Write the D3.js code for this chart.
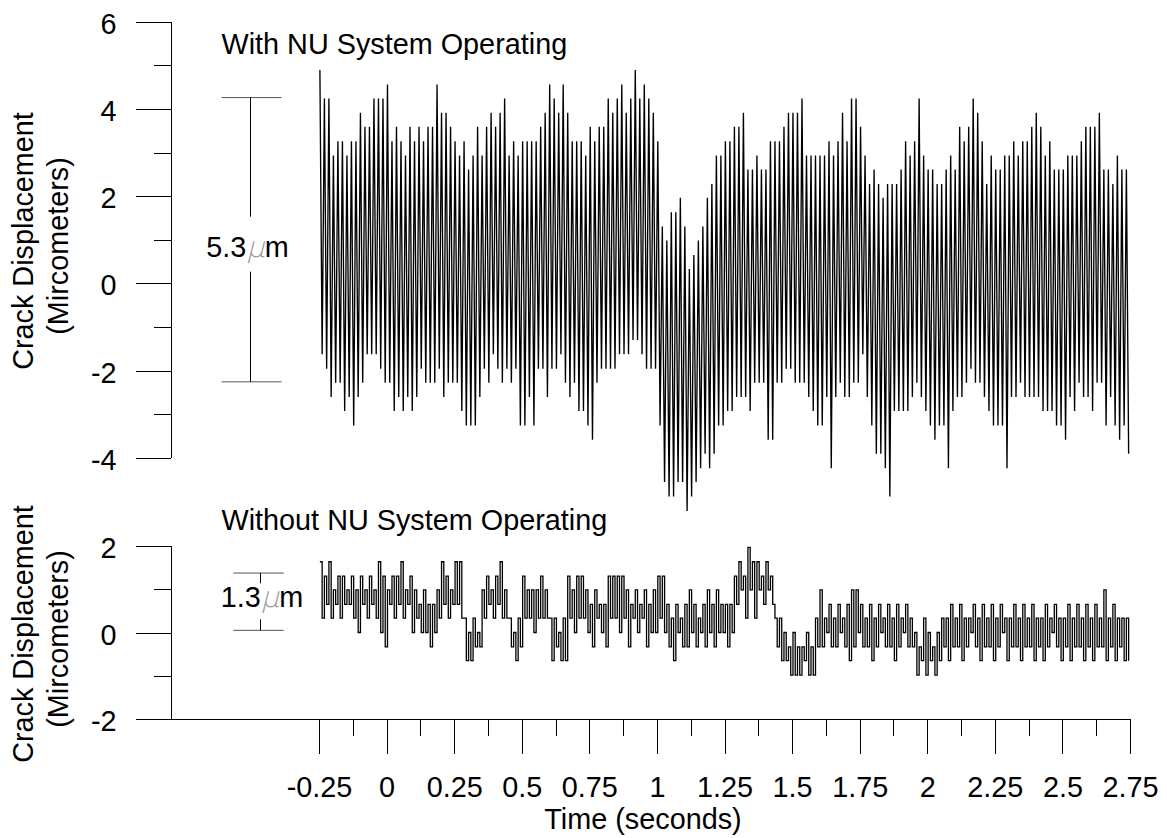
<!DOCTYPE html>
<html>
<head>
<meta charset="utf-8">
<script src="https://cdn.jsdelivr.net/npm/d3@7"></script>
<style>
  body { margin: 0; background: #fff; }
  svg { display: block; }
</style>
</head>
<body>
<svg id="chart" width="1167" height="838"></svg>
<script>
// ---------------- DATA ----------------
const xTickValues = [-0.25, 0, 0.25, 0.5, 0.75, 1, 1.25, 1.5, 1.75, 2, 2.25, 2.5, 2.75];
const xTickLabels = ["-0.25", "0", "0.25", "0.5", "0.75", "1", "1.25", "1.5", "1.75", "2", "2.25", "2.5", "2.75"];
const xMinorTicks = [-0.125, 0.125, 0.375, 0.625, 0.875, 1.125, 1.375, 1.625, 1.875, 2.125, 2.375, 2.625];
const topYMajor = [-4, -2, 0, 2, 4, 6];
const topYMinor = [-3, -1, 1, 3, 5];
const botYMajor = [-2, 0, 2];
const botYMinor = [-1, 1];

const titles = ["With NU System Operating", "Without NU System Operating"];
const axisTitleX = "Time (seconds)";
const axisTitleY = ["Crack Displacement", "(Mircometers)"];

// sampling of the recorded traces (60 Hz cycles, start time in seconds)
const sampleStart = -0.2467;
const cyclesPerSecond = 60;

// "With NU System Operating": per-cycle peak and trough (micrometers)
const withPeaks = [
  4.89, 4.24, 4.24, 2.93, 3.26, 3.26, 2.93, 3.26, 3.26, 3.91,
  3.59, 3.59, 4.24, 4.24, 4.24, 4.56, 3.26, 3.59, 3.26, 2.93,
  3.59, 3.26, 3.59, 3.26, 3.59, 3.59, 4.56, 3.91, 3.91, 3.59,
  3.26, 2.93, 3.26, 2.61, 2.93, 3.59, 2.93, 3.59, 3.91, 3.59,
  3.91, 4.24, 2.93, 3.26, 2.93, 3.26, 3.26, 3.26, 3.26, 3.59,
  3.91, 4.56, 4.24, 3.91, 4.56, 3.91, 3.26, 3.26, 3.26, 2.93,
  3.59, 3.26, 3.59, 3.59, 4.24, 3.91, 4.24, 4.56, 3.91, 4.24,
  4.89, 4.24, 4.56, 4.24, 3.91, 3.26, 1.30, 0.98, 1.63, 1.63,
  1.96, 1.30, 0.33, 0.65, 0.98, 1.30, 1.96, 2.28, 2.93, 2.93,
  3.26, 3.26, 3.59, 3.59, 3.91, 2.61, 2.61, 2.93, 2.61, 2.61,
  3.26, 3.26, 3.26, 3.59, 3.91, 3.91, 3.91, 4.24, 2.93, 2.93,
  2.93, 2.93, 2.93, 3.26, 2.93, 3.26, 3.91, 3.26, 4.24, 4.24,
  3.59, 2.93, 2.28, 2.61, 2.28, 1.96, 2.28, 2.28, 2.28, 2.61,
  3.26, 2.93, 3.26, 4.24, 2.93, 2.61, 2.61, 2.28, 2.28, 2.61,
  2.93, 2.61, 3.59, 3.26, 3.59, 4.24, 3.91, 3.26, 2.28, 2.93,
  2.61, 2.61, 2.93, 2.93, 3.26, 2.93, 3.26, 3.26, 3.59, 3.91,
  3.59, 2.93, 3.26, 2.61, 2.61, 2.61, 2.93, 2.93, 2.93, 3.26,
  3.59, 3.59, 3.59, 3.91, 2.61, 2.61, 2.28, 2.93, 2.61, 2.61
];
const withTroughs = [
  -1.63, -1.96, -2.61, -2.28, -2.28, -2.93, -2.61, -3.26, -2.61, -2.28,
  -1.63, -1.63, -1.63, -1.96, -2.28, -2.28, -2.93, -2.61, -2.93, -2.61,
  -2.93, -2.61, -1.96, -2.28, -2.28, -2.28, -1.96, -2.61, -2.28, -2.28,
  -2.28, -2.93, -3.26, -3.26, -3.26, -2.61, -1.96, -2.28, -1.63, -1.96,
  -2.28, -1.96, -2.28, -1.96, -3.26, -3.26, -2.61, -3.26, -1.96, -1.96,
  -2.61, -1.96, -1.96, -1.63, -2.28, -2.61, -2.28, -2.93, -2.93, -3.26,
  -3.59, -2.28, -1.96, -1.96, -1.96, -1.96, -1.63, -1.63, -1.63, -1.30,
  -1.30, -1.63, -1.96, -1.96, -1.96, -3.26, -4.56, -4.89, -4.89, -4.56,
  -4.56, -5.22, -4.89, -4.56, -4.24, -3.91, -4.24, -3.91, -3.26, -3.26,
  -2.93, -2.93, -2.61, -2.61, -2.61, -2.93, -2.28, -2.28, -2.28, -3.59,
  -3.59, -2.28, -2.28, -1.96, -1.96, -2.28, -2.28, -2.28, -2.61, -2.93,
  -3.26, -3.26, -2.61, -4.24, -2.61, -2.28, -2.61, -2.61, -2.28, -2.28,
  -1.63, -2.61, -3.26, -3.91, -3.91, -4.24, -4.89, -2.93, -2.93, -2.93,
  -2.93, -2.61, -2.28, -2.61, -2.93, -3.26, -3.59, -3.26, -3.26, -4.24,
  -2.93, -2.61, -2.61, -2.28, -1.96, -2.28, -2.28, -2.61, -2.93, -3.26,
  -3.26, -3.26, -4.24, -2.61, -2.61, -2.28, -2.61, -2.61, -2.61, -2.61,
  -2.93, -2.93, -2.93, -3.26, -3.26, -3.59, -2.61, -2.93, -2.28, -2.61,
  -2.61, -2.93, -2.28, -2.28, -3.26, -2.61, -3.26, -3.59, -3.26, -3.91
];

// "Without NU System Operating": per-cycle high and low (micrometers)
const withoutHigh = [
  1.63, 1.30, 1.63, 0.98, 1.30, 1.30, 0.98, 1.30, 0.98, 1.30, 0.98, 1.30, 0.98, 1.63, 1.30, 0.98, 1.30, 1.30, 1.63, 0.98, 1.30, 0.98,
  0.65, 0.98, 0.65, 0.65, 0.98,
  1.63, 1.30, 0.98, 1.63, 1.63,
  0.33, 0, 0.33, 0,
  0.98, 1.30, 0.98, 1.30, 1.63, 0.98,
  0.33, 0, 0.33,
  1.30, 0.98, 0.98, 0.98, 1.30, 0.98,
  0.33, 0.33, 0, 0.33,
  1.30, 0.98, 1.30, 1.30, 0.98, 0.65, 0.98, 0.65, 0.65, 1.30, 1.30, 1.30, 1.30, 0.98, 0.65, 0.98, 0.65, 0.98, 0.65,
  0.98, 1.30, 1.30,
  0.65, 0.33, 0.65, 0.33, 0.65, 0.98, 0.65, 0.33, 0.65, 0.98, 0.65, 0.98, 0.65, 0.65, 0.65,
  1.30, 1.63, 1.30, 1.96, 1.63, 1.63, 1.30, 1.63, 1.30,
  0.33, 0.33, 0,
  -0.33, 0, -0.33, -0.33, 0, -0.33,
  0.33, 0.98, 0.33, 0.65, 0.33, 0.65, 0.33, 0.65, 0.98, 0.98, 0.65, 0.33, 0.65, 0.33, 0.65, 0.33, 0.65, 0.33, 0.65, 0.33, 0.65, 0.33,
  0, -0.33, 0.33, 0, -0.33, 0,
  0.33, 0.33, 0.65, 0.33, 0.65, 0.33, 0.33, 0.65, 0.33, 0.65,
  0.33, 0.65, 0.33, 0.65, 0.33, 0.33, 0.65, 0.33, 0.65, 0.33,
  0.65, 0.33, 0.33, 0.65, 0.33, 0.65, 0.33, 0.33, 0.65, 0.33,
  0.65, 0.33, 0.65, 0.33, 0.65, 0.33, 0.98, 0.33, 0.65, 0.33,
  0.33, 0.33
];
const withoutLow = [
  0.33, 0.65, 0.33, 0.65, 0.33, 0.65, 0.65, 0.33, 0, 0.65, 0.33, 0.65, 0.33, 0, -0.33, 0.65, 0.33, 0.65, 0.33, 0.65, 0, 0.33,
  0, 0, -0.33, 0, 0.33,
  0.65, 0.33, 0.65, 0.65, 0.33,
  -0.65, -0.65, -0.33, -0.33,
  0.33, 0.65, 0.33, 0.65, 0.33, 0.33,
  -0.33, -0.65, -0.33,
  0.33, 0.33, 0, 0.33, 0.33, 0.33,
  -0.65, -0.33, -0.65, -0.65,
  0.33, 0, 0.33, 0.33, 0, -0.33, 0.33, 0, -0.33, 0.33, 0.33, 0, 0.33, -0.33, 0.33, 0, 0.33, -0.33, 0,
  0, 0.33, 0,
  -0.33, -0.65, 0, -0.33, -0.33, 0, -0.33, 0, -0.33, 0, -0.33, 0, 0, -0.33, 0,
  0.65, 0.98, 0.33, 0.98, 0.33, 0.98, 0.65, 0.98, 0.65,
  -0.33, -0.65, -0.65,
  -0.98, -0.98, -0.98, -0.65, -0.98, -0.98,
  -0.33, -0.33, 0, -0.33, -0.33, 0, -0.33, -0.65, -0.33, 0, -0.33, -0.33, -0.65, -0.33, 0, -0.33, -0.33, -0.65, -0.33, 0, -0.33, -0.33,
  -0.98, -0.65, -0.98, -0.65, -0.98, -0.65,
  -0.33, -0.65, -0.33, -0.33, -0.65, -0.33, 0, -0.33, -0.65, -0.33,
  -0.33, -0.65, -0.33, 0, -0.65, -0.33, -0.33, -0.65, -0.33, -0.33,
  -0.65, -0.33, -0.65, -0.33, 0, -0.33, -0.65, -0.33, -0.65, -0.33,
  -0.33, -0.65, -0.33, -0.65, -0.33, -0.33, -0.65, -0.33, -0.65, -0.33,
  -0.65, -0.65
];

// scale bar annotations: [top value, bottom value], label number
const scaleBarWith = [4.26, -2.26];
const scaleBarWithLabel = "5.3";
const scaleBarWithout = [1.37, 0.05];
const scaleBarWithoutLabel = "1.3";

// ---------------- DRAWING ----------------
const FONT = '"Liberation Sans", Arial, Helvetica, sans-serif';
const FS = 28.8;
const svg = d3.select("#chart");

const x = d3.scaleLinear().domain([-0.25, 2.75]).range([319, 1130]);
const yTop = d3.scaleLinear().domain([-4, 6]).range([457.7, 21.7]);
const yBot = d3.scaleLinear().domain([-2, 2]).range([719.3, 545.7]);
const AX = 170.5;

function yAxis(scale, major, minor) {
  const g = svg.append("g").attr("transform", `translate(${AX},0)`);
  g.call(d3.axisLeft(scale).tickValues(major).tickSize(35).tickSizeOuter(0)
    .tickPadding(19).tickFormat(d => String(d)));
  g.append("g").call(d3.axisLeft(scale).tickValues(minor).tickSize(17).tickFormat(""))
    .call(s => s.select(".domain").remove());
  g.attr("font-size", FS).attr("font-family", FONT);
  g.selectAll("text").attr("fill", "#000").attr("dy", "0.4em");
  g.selectAll("line,path").attr("stroke", "#000").attr("shape-rendering", "crispEdges");
  return g;
}
yAxis(yTop, topYMajor, topYMinor);
yAxis(yBot, botYMajor, botYMinor);

// x axis
const gx = svg.append("g").attr("transform", `translate(0,${yBot(-2)})`);
gx.call(d3.axisBottom(x).tickValues(xTickValues).tickSize(35).tickPadding(22)
  .tickFormat((d, i) => xTickLabels[i]));
gx.select(".domain").remove();
gx.append("g").call(d3.axisBottom(x).tickValues(xMinorTicks).tickSize(17).tickFormat(""))
  .call(s => s.select(".domain").remove());
gx.append("line").attr("x1", AX).attr("x2", x(2.75) + 0.5).attr("y1", 0.5).attr("y2", 0.5)
  .attr("stroke", "#000");
gx.attr("font-size", FS).attr("font-family", FONT);
gx.selectAll("text").attr("fill", "#000");
gx.selectAll("line").attr("stroke", "#000").attr("shape-rendering", "crispEdges");

// axis titles
svg.append("text").attr("x", 643).attr("y", 829).attr("text-anchor", "middle")
  .attr("font-family", FONT).attr("font-size", FS).text(axisTitleX);

function yTitle(cy) {
  [[33, cy], [68, cy + 5]].forEach(([bx, by], k) => {
    svg.append("text")
      .attr("transform", `translate(${bx},${by}) rotate(-90)`)
      .attr("text-anchor", "middle")
      .attr("font-family", FONT).attr("font-size", FS)
      .text(axisTitleY[k]);
  });
}
yTitle(241);
yTitle(634);

// panel titles
svg.append("text").attr("x", 221.5).attr("y", 54).attr("font-family", FONT)
  .attr("font-size", FS).text(titles[0]);
svg.append("text").attr("x", 221.5).attr("y", 530).attr("font-family", FONT)
  .attr("font-size", FS).text(titles[1]);

// traces
const topPts = withPeaks.flatMap((p, i) => [
  [sampleStart + i / cyclesPerSecond, p],
  [sampleStart + (i + 0.5) / cyclesPerSecond, withTroughs[i]]
]);
const botPts = withoutHigh.flatMap((p, i) => [
  [sampleStart + i / cyclesPerSecond, p],
  [sampleStart + (i + 0.5) / cyclesPerSecond, withoutLow[i]]
]);
svg.append("path")
  .attr("d", d3.line().x(d => x(d[0])).y(d => yTop(d[1]))(topPts))
  .attr("fill", "none").attr("stroke", "#000").attr("stroke-width", 1.35);
svg.append("path")
  .attr("d", d3.line().curve(d3.curveStepAfter).x(d => x(d[0])).y(d => yBot(d[1]))(botPts))
  .attr("fill", "none").attr("stroke", "#000").attr("stroke-width", 1.3);

// scale bars
function scaleBar(ys, vals, label, bx, capL, capR, gapTop, gapBot, tx, ty) {
  const g = svg.append("g").attr("stroke", "#000").attr("stroke-width", 1);
  const yT = ys(vals[0]), yB = ys(vals[1]);
  g.append("line").attr("x1", capL).attr("x2", capR).attr("y1", yT).attr("y2", yT).attr("stroke", "#555");
  g.append("line").attr("x1", capL).attr("x2", capR).attr("y1", yB).attr("y2", yB).attr("stroke", "#555");
  g.append("line").attr("x1", bx).attr("x2", bx).attr("y1", yT).attr("y2", gapTop);
  g.append("line").attr("x1", bx).attr("x2", bx).attr("y1", gapBot).attr("y2", yB);
  const t = svg.append("text").attr("x", tx).attr("y", ty).attr("text-anchor", "middle")
    .attr("font-family", FONT).attr("font-size", FS);
  t.append("tspan").text(label);
  t.append("tspan").attr("fill", "#9a9a9a").attr("font-style", "italic")
    .attr("font-family", '"DejaVu Sans ExtraLight", "DejaVu Sans Light", "DejaVu Sans", sans-serif')
    .attr("font-weight", 200).text("\u03bc");
  t.append("tspan").text("m");
}
scaleBar(yTop, scaleBarWith, scaleBarWithLabel, 250.5, 221.5, 281.5, 216.7, 271.7, 247.5, 256.7);
scaleBar(yBot, scaleBarWithout, scaleBarWithoutLabel, 260.5, 233.3, 283.7, 583.3, 619.3, 262, 607.3);
</script>
</body>
</html>
